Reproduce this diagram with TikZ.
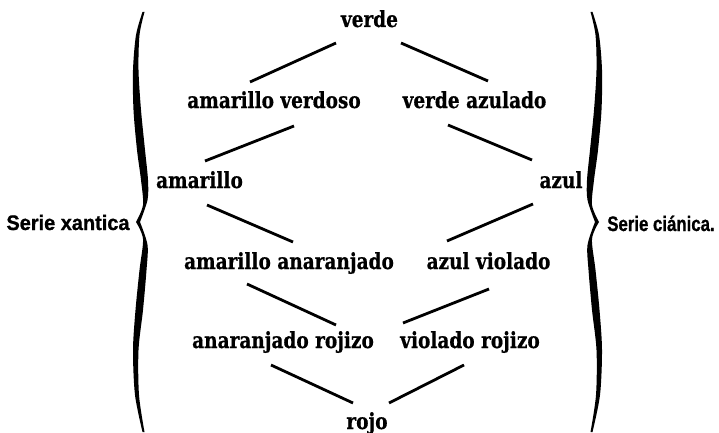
\documentclass[tikz,border=0pt]{standalone}
\usepackage{fontspec}
\setmainfont{DejaVu Serif}
\newfontfamily\labfont{DejaVu Serif}[BoldFeatures={FakeBold=0.7}]
\newfontfamily\sansfam{Liberation Sans}[BoldFeatures={FakeBold=1}]
\newcommand{\lbl}[1]{\scalebox{1}[1.2]{#1}}
\begin{document}
\begin{tikzpicture}[x=1pt,y=-1pt,
  lab/.style={font=\labfont\fontsize{18.5}{20}\selectfont\bfseries, inner sep=0pt, anchor=base},
  ser/.style={font=\sansfam\fontsize{21}{22}\selectfont\bfseries, inner sep=0pt, anchor=base},
  link/.style={line width=2.8pt},
  bracefill/.style={fill=black}]
\useasboundingbox (0,0) rectangle (719,433);
\node[lab] (verde) at (369.5,27) {\lbl{verde}};
\node[lab] (amv) at (274,108) {\lbl{amarillo verdoso}};
\node[lab] (vaz) at (474.5,108) {\lbl{verde azulado}};
\node[lab] (ama) at (199.5,188) {\lbl{amarillo}};
\node[lab] (azul) at (561,188) {\lbl{azul}};
\node[lab] (amaan) at (289,269) {\lbl{amarillo anaranjado}};
\node[lab] (azvi) at (488.5,269) {\lbl{azul violado}};
\node[lab] (anro) at (283,348) {\lbl{anaranjado rojizo}};
\node[lab] (viro) at (470,348) {\lbl{violado rojizo}};
\node[lab] (rojo) at (367,429) {\lbl{rojo}};
\node[ser] (xan) at (68,230) {\scalebox{0.95}[1]{Serie xantica}};
\node[ser] (cia) at (661,231) {\scalebox{0.8}[1]{Serie ciánica.}};
\coordinate (e1a) at (336,43);  \coordinate (e1b) at (250,82);
\coordinate (e2a) at (401,43);  \coordinate (e2b) at (488,81);
\coordinate (e3a) at (294,126); \coordinate (e3b) at (205,161);
\coordinate (e4a) at (448,125); \coordinate (e4b) at (532,160);
\coordinate (e5a) at (207,205); \coordinate (e5b) at (293,242);
\coordinate (e6a) at (533,204); \coordinate (e6b) at (447,241);
\coordinate (e7a) at (247,284); \coordinate (e7b) at (336,325);
\coordinate (e8a) at (489,289); \coordinate (e8b) at (403,323);
\coordinate (e9a) at (271,365); \coordinate (e9b) at (353,403);
\coordinate (e10a) at (464,365); \coordinate (e10b) at (389,403);
\draw[link] (e1a) -- (e1b);
\draw[link] (e2a) -- (e2b);
\draw[link] (e3a) -- (e3b);
\draw[link] (e4a) -- (e4b);
\draw[link] (e5a) -- (e5b);
\draw[link] (e6a) -- (e6b);
\draw[link] (e7a) -- (e7b);
\draw[link] (e8a) -- (e8b);
\draw[link] (e9a) -- (e9b);
\draw[link] (e10a) -- (e10b);
% left brace
\path[bracefill] plot[smooth] coordinates {(142.5,12) (136,35) (133,70) (133.5,110) (137,150) (141,180) (143,205) (136,222)}
  -- plot[smooth] coordinates {(136,222) (143,239) (139.5,270) (135.5,310) (133,350) (135,395) (142.5,432)}
  -- plot[smooth] coordinates {(144.5,432) (139,395) (138.5,350) (143,310) (146.5,270) (147.5,245) (140,222)}
  -- plot[smooth] coordinates {(140,222) (147.5,200) (148,180) (145,150) (141,110) (138.5,70) (139.5,35) (144.5,12)}
  -- cycle;
% right brace
\path[bracefill] plot[smooth] coordinates {(592.5,12) (599,35) (602,70) (601.5,110) (598,150) (594,180) (592,205) (599,222)}
  -- plot[smooth] coordinates {(599,222) (592,239) (595.5,270) (599.5,310) (602,350) (600,395) (592.5,432)}
  -- plot[smooth] coordinates {(590.5,432) (596,395) (596.5,350) (592,310) (588.5,270) (587.5,245) (595,222)}
  -- plot[smooth] coordinates {(595,222) (587.5,200) (587,180) (590,150) (594,110) (596.5,70) (595.5,35) (590.5,12)}
  -- cycle;
\end{tikzpicture}
\end{document}
